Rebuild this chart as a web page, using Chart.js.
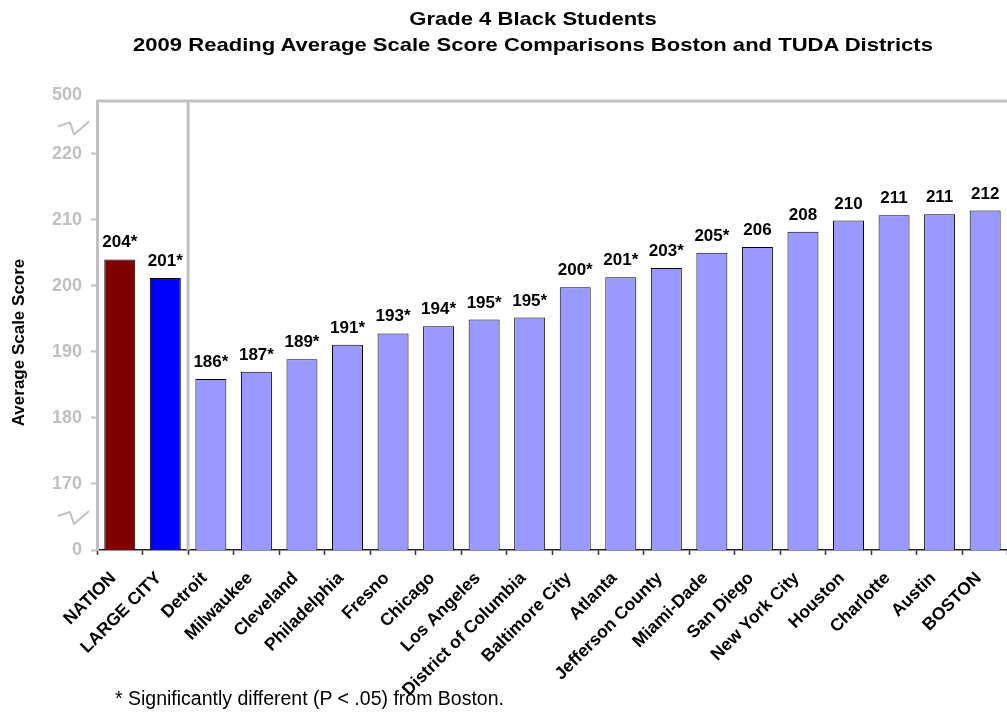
<!DOCTYPE html>
<html>
<head>
<meta charset="utf-8">
<title>Grade 4 Black Students - 2009 Reading</title>
<script src="https://cdn.jsdelivr.net/npm/chart.js@4.4.1/dist/chart.umd.min.js"></script>
<style>
  html, body { margin: 0; padding: 0; background: #fff; overflow: hidden; }
  #wrap { position: relative; width: 1007px; height: 721px; overflow: hidden; }
  #chart { position: absolute; left: 0; top: 0; }
  .title {
    position: absolute; left: 0; top: 6px; width: 1066px;
    text-align: center; white-space: nowrap; color: #000;
    font: bold 19px 'Liberation Sans', Arial, sans-serif; line-height: 26px;
    transform: scaleX(1.16); transform-origin: 533px 0;
  }
  .note {
    position: absolute; left: 115px; top: 688px; white-space: nowrap; color: #000;
    font: 19.5px 'Liberation Sans', Arial, sans-serif; line-height: 20px;
  }
</style>
</head>
<body>
<div id="wrap">
  <canvas id="chart" width="1013" height="721"></canvas>
  <div class="title">Grade 4 Black Students<br>2009 Reading Average Scale Score Comparisons Boston and TUDA Districts</div>
  <div class="note">* Significantly different (P &lt; .05) from Boston.</div>
</div>

<script>
// --- data ---
const categories = [
  'NATION', 'LARGE CITY', 'Detroit', 'Milwaukee', 'Cleveland', 'Philadelphia',
  'Fresno', 'Chicago', 'Los Angeles', 'District of Columbia', 'Baltimore City',
  'Atlanta', 'Jefferson County', 'Miami-Dade', 'San Diego', 'New York City',
  'Houston', 'Charlotte', 'Austin', 'BOSTON'
];
const scores = [
  204.0, 201.2, 185.9, 187.0, 188.9, 191.1,
  192.8, 193.9, 194.9, 195.2, 199.8,
  201.3, 202.7, 205.0, 205.9, 208.2,
  209.9, 210.7, 210.85, 211.4
];
const scoreLabels = [
  '204*', '201*', '186*', '187*', '189*', '191*',
  '193*', '194*', '195*', '195*', '200*',
  '201*', '203*', '205*', '206', '208',
  '210', '211', '211', '212'
];
const yTicks = [0, 170, 180, 190, 200, 210, 220, 500];

// broken axis: 0 and 500 sit one step outside the 170-220 band
const AXIS_FLOOR = 160, AXIS_CEIL = 228;
const toAxis = v => v === 0 ? AXIS_FLOOR : v === 500 ? AXIS_CEIL : v;

const GRAY = '#C0C0C0';
const FONT = "'Liberation Sans', Arial, sans-serif";

const decorPlugin = {
  id: 'decor',
  beforeDatasetsDraw(chart) {
    const { ctx, chartArea: a, scales: { x } } = chart;
    ctx.save();
    ctx.strokeStyle = GRAY;
    ctx.lineWidth = 3;
    // top frame line
    ctx.beginPath();
    ctx.moveTo(a.left, a.top);
    ctx.lineTo(a.right, a.top);
    ctx.stroke();
    // separator between reference groups and districts
    const sx = (x.getPixelForValue(1) + x.getPixelForValue(2)) / 2;
    ctx.beginPath();
    ctx.moveTo(sx, a.top);
    ctx.lineTo(sx, a.bottom);
    ctx.stroke();
    ctx.restore();
  },
  afterDatasetsDraw(chart) {
    const { ctx } = chart;
    const meta = chart.getDatasetMeta(0);
    ctx.save();
    ctx.fillStyle = '#000';
    ctx.font = 'bold 17px ' + FONT;
    ctx.textAlign = 'center';
    ctx.textBaseline = 'alphabetic';
    meta.data.forEach((bar, i) => {
      ctx.fillText(scoreLabels[i], bar.x, bar.y - 12);
    });
    ctx.restore();
  },
  afterDraw(chart) {
    const { ctx, chartArea: a, scales: { y } } = chart;
    ctx.save();
    // axis break marks
    ctx.strokeStyle = GRAY;
    ctx.lineWidth = 2;
    ctx.lineJoin = 'round';
    const shape = [[-39, -1], [-27, -5], [-23, 7], [-8, -6]];
    [224, 165].forEach(v => {
      const yc = y.getPixelForValue(v);
      ctx.beginPath();
      shape.forEach(([dx, dy], k) => {
        const px = a.left + dx, py = yc + dy;
        k ? ctx.lineTo(px, py) : ctx.moveTo(px, py);
      });
      ctx.stroke();
    });
    // y axis title
    ctx.fillStyle = '#000';
    ctx.font = 'bold 17px ' + FONT;
    ctx.textAlign = 'center';
    ctx.textBaseline = 'alphabetic';
    ctx.translate(24, (a.top + a.bottom) / 2 + 17);
    ctx.rotate(-Math.PI / 2);
    ctx.fillText('Average Scale Score', 0, 0);
    ctx.restore();
  }
};

new Chart(document.getElementById('chart'), {
  type: 'bar',
  data: {
    labels: categories,
    datasets: [{
      data: scores,
      backgroundColor: ctx => ctx.dataIndex === 0 ? '#800000' : ctx.dataIndex === 1 ? '#0000FF' : '#9999FF',
      borderColor: '#000',
      borderWidth: 1,
      categoryPercentage: 1,
      barPercentage: 0.68
    }]
  },
  options: {
    responsive: false,
    animation: false,
    layout: { padding: { top: 101, left: 0, right: 0, bottom: 0 } },
    plugins: {
      legend: { display: false },
      title: { display: false },
      tooltip: { enabled: false }
    },
    scales: {
      x: {
        grid: { drawOnChartArea: false, drawTicks: true, tickLength: 5, tickColor: '#333', tickWidth: 1.5 },
        border: { color: '#222', width: 1.5 },
        ticks: {
          autoSkip: false, maxRotation: 45, minRotation: 45, padding: 13, labelOffset: -6.5,
          color: '#000', font: { family: FONT, size: 17.5, weight: 'bold' }
        },
        afterFit: s => { s.height = 171; }
      },
      y: {
        min: AXIS_FLOOR,
        max: AXIS_CEIL,
        afterBuildTicks: s => { s.ticks = yTicks.map(v => ({ value: toAxis(v) })); },
        grid: {
          drawOnChartArea: false, drawTicks: true, tickLength: 6, tickWidth: 2,
          tickColor: ctx => (ctx.tick && ctx.tick.value === AXIS_CEIL) ? 'rgba(0,0,0,0)' : GRAY
        },
        border: { color: GRAY, width: 3 },
        ticks: {
          padding: 9,
          color: GRAY,
          font: { family: FONT, size: 18, weight: 'bold', lineHeight: 0.67 },
          callback: (val, i) => yTicks[i] === 500 ? ['500', ''] : String(yTicks[i])
        },
        afterFit: s => { s.width = 97; }
      }
    }
  },
  plugins: [decorPlugin]
});
</script>
</body>
</html>
